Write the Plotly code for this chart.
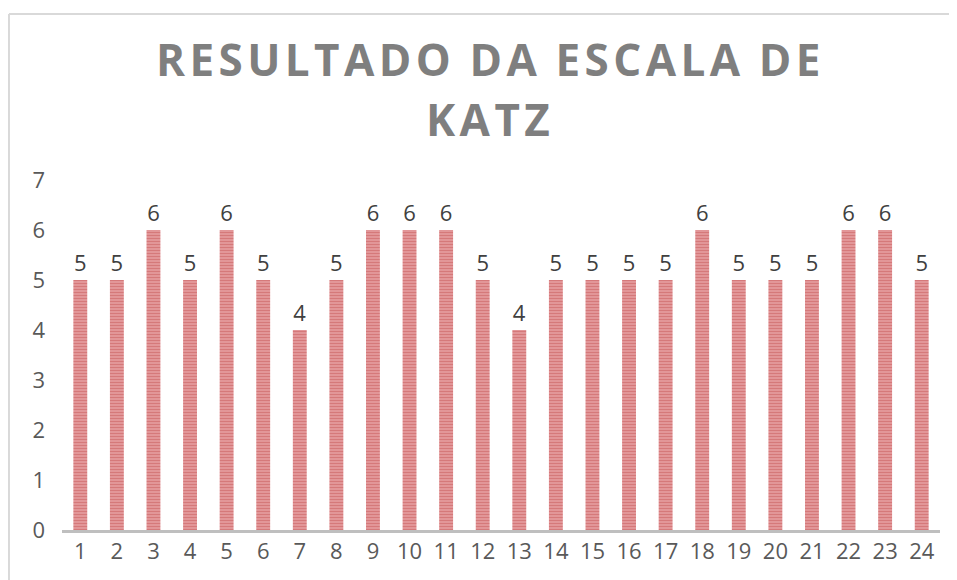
import plotly.graph_objects as go

categories = [str(i) for i in range(1, 25)]
values = [5, 5, 6, 5, 6, 5, 4, 5, 6, 6, 6, 5, 4, 5, 5, 5, 5, 6, 5, 5, 5, 6, 6, 5]
y_ticks = [0, 1, 2, 3, 4, 5, 6, 7]
title_lines = ["RESULTADO DA ESCALA DE", "KATZ"]

def spaced(s, sep="\u200a"):
    return " \u2009".join(sep.join(list(w)) for w in s.split(" "))

title_font = dict(size=44, color="#7f7f7f", family="Open Sans", weight="bold")

fig = go.Figure()
fig.add_trace(go.Bar(
    x=categories, y=values,
    text=[str(v) for v in values], textposition="outside",
    textfont=dict(size=22, color="#404040", family="Open Sans"),
    cliponaxis=False,
    marker=dict(
        color="#e39597",
        line=dict(width=0),
        pattern=dict(shape="-", fgcolor="#c45153", bgcolor="#e6a0a1", size=3, solidity=0.5, fillmode="overlay"),
    ),
))

fig.update_layout(
    width=949, height=572,
    margin=dict(l=54, r=17, t=172, b=50),
    paper_bgcolor="white", plot_bgcolor="white",
    bargap=0.62,
    showlegend=False,
    annotations=[
        dict(text=spaced(title_lines[0]), xref="paper", yref="paper", x=0.4856, y=1.438,
             xanchor="center", yanchor="top", showarrow=False, font=title_font),
        dict(text=spaced(title_lines[1]), xref="paper", yref="paper", x=0.4856, y=1.438 - 60 / 350,
             xanchor="center", yanchor="top", showarrow=False, font=title_font),
    ],
    xaxis=dict(showgrid=False, showline=True, linecolor="#bfbfbf", linewidth=3,
               ticks="", tickfont=dict(size=22, color="#595959", family="Open Sans")),
    yaxis=dict(range=[0, 7], tickvals=y_ticks, showgrid=False, zeroline=False, showline=False,
               ticks="", ticklabelstandoff=16,
               tickfont=dict(size=22, color="#595959", family="Open Sans")),
    shapes=[
        dict(type="line", xref="paper", yref="paper", x0=-0.0604, x1=1.05, y0=1.474, y1=1.474,
             line=dict(color="#d9d9d9", width=2)),
        dict(type="line", xref="paper", yref="paper", x0=-0.0604, x1=-0.0604, y0=1.474, y1=-0.2,
             line=dict(color="#d9d9d9", width=2)),
    ],
)

fig.write_html("out.html")
